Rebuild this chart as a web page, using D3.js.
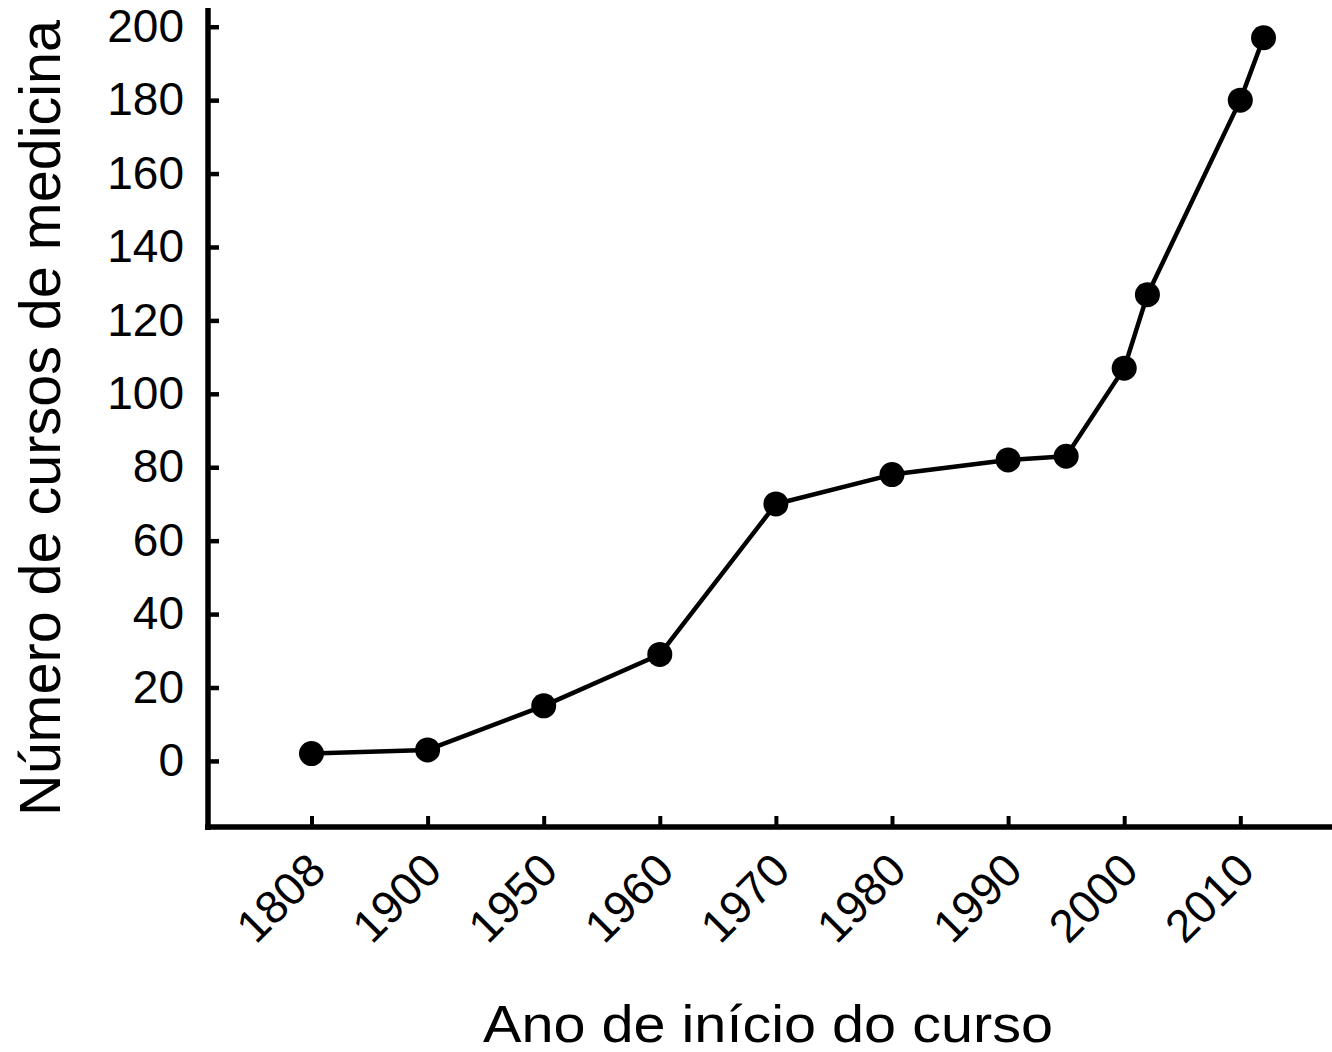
<!DOCTYPE html>
<html>
<head>
<meta charset="utf-8">
<script src="https://cdn.jsdelivr.net/npm/d3@7"></script>
<style>
  body { margin: 0; background: #ffffff; }
  svg { display: block; font-family: "Liberation Sans", Arial, sans-serif; }
</style>
</head>
<body>
<svg id="chart" width="1332" height="1052"></svg>
<script>

// category ticks on the x axis (evenly spaced, not to scale)
const yearTicks = [1808, 1900, 1950, 1960, 1970, 1980, 1990, 2000, 2010];
// observed years and number of medical courses
const years = [1808, 1900, 1950, 1960, 1970, 1980, 1990, 1995, 2000, 2002, 2010, 2012];
const courses = [2, 3, 15, 29, 70, 78, 82, 83, 107, 127, 180, 197];
const yTicks = [0, 20, 40, 60, 80, 100, 120, 140, 160, 180, 200];

const xTitle = 'Ano de início do curso';
const yTitle = 'Número de cursos de medicina';

const svgWidth = 1332;
const axisX = 208;   // y axis line
const axisY = 827;   // x axis line
const firstTick = 311.5;
const tickStep = 116.1;
const tickFont = 46;


const svg = d3.select('#chart');

// piecewise scale: each labelled year gets one equal slot
const x = d3.scaleLinear()
    .domain(yearTicks)
    .range(yearTicks.map((d, i) => firstTick + i * tickStep));

const y = d3.scaleLinear()
    .domain([-18, 205.1])
    .range([axisY, 8]);

const data = years.map((d, i) => ({year: d, value: courses[i]}));


function drawYAxis(selection) {
  const axis = d3.axisLeft(y)
      .tickValues(yTicks)
      .tickSizeInner(-11)
      .tickSizeOuter(0)
      .tickPadding(24);
  selection
      .attr('transform', `translate(${axisX},0)`)
      .call(axis);
  selection.select('.domain').remove();
  selection.selectAll('.tick line')
      .attr('stroke', '#000')
      .attr('stroke-width', 4.5);
  selection.selectAll('.tick text')
      .attr('fill', '#000')
      .attr('font-size', tickFont)
      .attr('font-family', '"Liberation Sans", Arial, sans-serif');
}


function drawXAxis(selection) {
  const axis = d3.axisBottom(x)
      .tickValues(yearTicks)
      .tickFormat(d3.format('d'))
      .tickSizeInner(-11)
      .tickSizeOuter(0);
  selection
      .attr('transform', `translate(0,${axisY})`)
      .call(axis);
  selection.select('.domain').remove();
  selection.selectAll('.tick line')
      .attr('stroke', '#000')
      .attr('stroke-width', 4);
  selection.selectAll('.tick text')
      .attr('fill', '#000')
      .attr('font-size', tickFont)
      .attr('font-family', '"Liberation Sans", Arial, sans-serif')
      .attr('text-anchor', 'end')
      .attr('dy', null)
      .attr('y', 0)
      .attr('transform', 'translate(16,46) rotate(-45)');
}


const g = svg.append('g');

g.append('g').call(drawYAxis);
g.append('g').call(drawXAxis);

// axis lines
g.append('line')
    .attr('x1', axisX).attr('x2', axisX)
    .attr('y1', 8).attr('y2', axisY + 3)
    .attr('stroke', '#000')
    .attr('stroke-width', 5.5);
g.append('line')
    .attr('x1', axisX - 3).attr('x2', svgWidth)
    .attr('y1', axisY).attr('y2', axisY)
    .attr('stroke', '#000')
    .attr('stroke-width', 5.5);

// series
const line = d3.line()
    .x(d => x(d.year))
    .y(d => y(d.value));

g.append('path')
    .datum(data)
    .attr('fill', 'none')
    .attr('stroke', '#000')
    .attr('stroke-width', 4.5)
    .attr('stroke-linejoin', 'round')
    .attr('d', line);

g.selectAll('.dot')
    .data(data)
  .enter().append('circle')
    .attr('class', 'dot')
    .attr('cx', d => x(d.year))
    .attr('cy', d => y(d.value))
    .attr('r', 12.5)
    .attr('fill', '#000');

// titles
svg.append('text')
    .attr('x', 483)
    .attr('y', 1042)
    .attr('font-size', 52)
    .attr('textLength', 570)
    .attr('lengthAdjust', 'spacingAndGlyphs')
    .attr('fill', '#000')
    .text(xTitle);

svg.append('text')
    .attr('transform', 'translate(60,418) rotate(-90)')
    .attr('text-anchor', 'middle')
    .attr('font-size', 57.5)
    .attr('fill', '#000')
    .text(yTitle);

</script>
</body>
</html>
